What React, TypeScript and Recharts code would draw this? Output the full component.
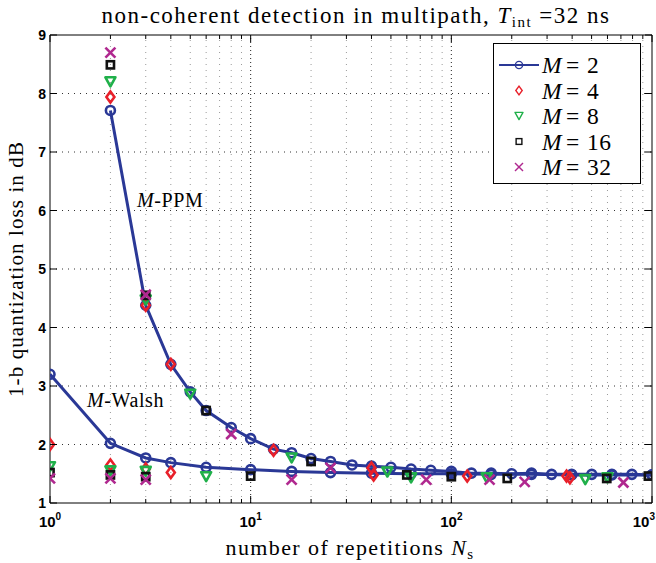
import React from 'react';
import { ScatterChart, Scatter, XAxis, YAxis, ReferenceLine, Legend } from 'recharts';

const W = 656;
const H = 563;

// tick values
const xMajorTicks = [1, 10, 100, 1000];
const xMinorTicks = [2, 3, 4, 5, 6, 7, 8, 9, 20, 30, 40, 50, 60, 70, 80, 90, 200, 300, 400, 500, 600, 700, 800, 900];
const yTicks = [1, 2, 3, 4, 5, 6, 7, 8, 9];
const yGridValues = [2, 3, 4, 5, 6, 7, 8];

// M = 2, M-PPM curve
const m2PpmN = [2, 3, 4, 5, 6, 8, 10, 13, 16, 20, 25, 32, 40, 50, 63, 79, 100, 126, 158, 200, 251, 316, 398, 501, 631, 794, 1000];
const m2PpmV = [7.71, 4.38, 3.37, 2.9, 2.58, 2.29, 2.1, 1.92, 1.86, 1.76, 1.71, 1.65, 1.63, 1.61, 1.58, 1.56, 1.54, 1.51, 1.51, 1.5, 1.51, 1.49, 1.49, 1.49, 1.49, 1.49, 1.48];
// M = 2, M-Walsh curve
const m2WalshN = [1, 2, 3, 4, 6, 10, 16, 25, 40, 63, 100, 158, 251, 398, 631, 1000];
const m2WalshV = [3.2, 2.02, 1.77, 1.69, 1.61, 1.57, 1.54, 1.52, 1.51, 1.5, 1.5, 1.49, 1.49, 1.48, 1.48, 1.48];
// M = 4
const m4N = [1, 2, 2, 3, 3, 4, 4, 13, 40, 41, 120, 375, 390];
const m4V = [2.0, 7.94, 1.65, 4.38, 1.58, 3.37, 1.52, 1.9, 1.6, 1.48, 1.46, 1.46, 1.43];
// M = 8
const m8N = [1, 2, 2, 3, 3, 5, 6, 16, 48, 63, 150, 465, 600];
const m8V = [1.62, 8.2, 1.55, 4.47, 1.54, 2.86, 1.45, 1.77, 1.53, 1.43, 1.43, 1.4, 1.43];
// M = 16
const m16N = [1, 2, 2, 3, 3, 6, 10, 20, 60, 100, 190, 595, 960];
const m16V = [1.52, 8.49, 1.48, 4.55, 1.45, 2.58, 1.46, 1.71, 1.48, 1.45, 1.42, 1.42, 1.46];
// M = 32
const m32N = [1, 2, 2, 3, 3, 8, 16, 25, 75, 155, 232, 720];
const m32V = [1.42, 8.7, 1.42, 4.56, 1.4, 2.18, 1.4, 1.6, 1.4, 1.4, 1.36, 1.35];

const legendNames = ['2', '4', '8', '16', '32'];

const zip = (n: number[], v: number[]) => n.map((x, i) => ({ n: x, v: v[i] }));

const BLUE = '#2a3896';
const RED = '#e8202a';
const GREEN = '#20b04a';
const BLACK = '#111111';
const MAGENTA = '#b0288f';

const SANS = '"Liberation Sans", Arial, sans-serif';
const SERIF = '"Liberation Serif", "Times New Roman", serif';

type MarkerKind = 'circle' | 'diamond' | 'triangle' | 'square' | 'x';

function Marker({ kind, cx, cy, color, s = 1, sw = 2.6 }: { kind: MarkerKind; cx: number; cy: number; color: string; s?: number; sw?: number }) {
  if (kind === 'circle') return <circle cx={cx} cy={cy} r={4.5 * s} fill="none" stroke={color} strokeWidth={sw} />;
  if (kind === 'diamond') {
    const w = 4 * s, h = 5.5 * s;
    return <polygon points={`${cx},${cy - h} ${cx + w},${cy} ${cx},${cy + h} ${cx - w},${cy}`} fill="none" stroke={color} strokeWidth={sw} />;
  }
  if (kind === 'triangle') {
    const w = 5 * s, h = 4.5 * s;
    return <polygon points={`${cx - w},${cy - h} ${cx + w},${cy - h} ${cx},${cy + h}`} fill="none" stroke={color} strokeWidth={sw} strokeLinejoin="round" />;
  }
  if (kind === 'square') {
    const a = 3.6 * s;
    return <rect x={cx - a} y={cy - a} width={2 * a} height={2 * a} fill="none" stroke={color} strokeWidth={sw} />;
  }
  const a = 5 * s;
  return (
    <g stroke={color} strokeWidth={sw}>
      <line x1={cx - a} y1={cy - a} x2={cx + a} y2={cy + a} />
      <line x1={cx - a} y1={cy + a} x2={cx + a} y2={cy - a} />
    </g>
  );
}

const shapeOf = (kind: MarkerKind, color: string) => (p: any) =>
  p.cx == null || p.cy == null ? <g /> : <Marker kind={kind} cx={p.cx} cy={p.cy} color={color} />;

const series: { name: string; kind: MarkerKind; color: string }[] = [
  { name: legendNames[0], kind: 'circle', color: BLUE },
  { name: legendNames[1], kind: 'diamond', color: RED },
  { name: legendNames[2], kind: 'triangle', color: GREEN },
  { name: legendNames[3], kind: 'square', color: BLACK },
  { name: legendNames[4], kind: 'x', color: MAGENTA },
];

const isMajor = (v: number) => xMajorTicks.includes(v);

const BottomTick = (p: any) => {
  const { x, y, payload } = p;
  const v = payload.value;
  const major = isMajor(v);
  const last = v === xMajorTicks[xMajorTicks.length - 1];
  return (
    <g>
      <line x1={x} x2={x} y1={y} y2={y - (major ? 7 : 4)} stroke="#000" strokeWidth={1} />
      {major && (
        <text x={last ? W - 1 : x} y={y + 24} textAnchor={last ? 'end' : 'middle'} fontFamily={SANS} fontWeight="bold" fontSize={15} fill="#000">
          10<tspan dy={-7} fontSize={10}>{Math.round(Math.log10(v))}</tspan>
        </text>
      )}
    </g>
  );
};

const TopTick = (p: any) => {
  const { x, y, payload } = p;
  const major = isMajor(payload.value);
  return <line x1={x} x2={x} y1={y} y2={y + (major ? 7 : 4)} stroke="#000" strokeWidth={1} />;
};

const LeftTick = (p: any) => {
  const { x, y, payload } = p;
  return (
    <g>
      <line x1={x} x2={x + 7} y1={y} y2={y} stroke="#000" strokeWidth={1} />
      <text x={x - 4} y={y + 5} textAnchor="end" fontFamily={SANS} fontWeight="bold" fontSize={14} fill="#000">
        {payload.value}
      </text>
    </g>
  );
};

const RightTick = (p: any) => {
  const { x, y } = p;
  return <line x1={x - 7} x2={x} y1={y} y2={y} stroke="#000" strokeWidth={1} />;
};

const LegendBox = () => (
  <div style={{ width: 148, height: 141, border: '1.3px solid #000', background: '#fff', boxSizing: 'border-box' }}>
    <svg width={146} height={139}>
      {series.map((s, i) => {
        const cy = 21 + i * 25.5;
        return (
          <g key={s.name}>
            {i === 0 && <line x1={5} x2={45} y1={cy} y2={cy} stroke={BLUE} strokeWidth={1.8} />}
            <Marker kind={s.kind} cx={25} cy={cy} color={s.color} s={0.8} sw={1.4} />
            <text y={cy + 8} fontFamily={SERIF} fontSize={23.5} fill="#000">
              <tspan x={48} fontStyle="italic">M</tspan>
              <tspan x={72}>=</tspan>
              <tspan x={93} letterSpacing={0.5}>{s.name}</tspan>
            </text>
          </g>
        );
      })}
    </svg>
  </div>
);

export default function App() {
  const allTicks = [...xMajorTicks, ...xMinorTicks].sort((a, b) => a - b);
  return (
    <div style={{ position: 'absolute', left: 0, top: 0, width: W, height: H, background: '#fff' }}>
      <ScatterChart width={W} height={H} margin={{ top: 30, right: 0, bottom: 0, left: 0 }}>
        <XAxis xAxisId="b" type="number" dataKey="n" scale="log" domain={[1, 1000]} ticks={allTicks} interval={0}
          allowDataOverflow orientation="bottom" height={60} tickSize={0} tickMargin={0} tickLine={false}
          tick={(p: any) => <BottomTick {...p} />} axisLine={{ stroke: '#000', strokeWidth: 1 }} />
        <XAxis xAxisId="t" type="number" dataKey="n" scale="log" domain={[1, 1000]} ticks={allTicks} interval={0}
          allowDataOverflow orientation="top" height={5} tickSize={0} tickMargin={0} tickLine={false}
          tick={(p: any) => <TopTick {...p} />} axisLine={{ stroke: '#000', strokeWidth: 1 }} />
        <YAxis yAxisId="l" type="number" dataKey="v" domain={[1, 9]} ticks={yTicks} interval={0} allowDataOverflow
          orientation="left" width={50} tickSize={0} tickMargin={0} tickLine={false}
          tick={(p: any) => <LeftTick {...p} />} axisLine={{ stroke: '#000', strokeWidth: 1 }} />
        <YAxis yAxisId="r" type="number" dataKey="v" domain={[1, 9]} ticks={yTicks} interval={0} allowDataOverflow
          orientation="right" width={4} tickSize={0} tickMargin={0} tickLine={false}
          tick={(p: any) => <RightTick {...p} />} axisLine={{ stroke: '#000', strokeWidth: 1 }} />

        {xMinorTicks.map((v) => (
          <ReferenceLine key={'mx' + v} xAxisId="b" yAxisId="l" x={v} stroke="#9a9a9a" strokeDasharray="1 5" />
        ))}
        {[10, 100].map((v) => (
          <ReferenceLine key={'Mx' + v} xAxisId="b" yAxisId="l" x={v} stroke="#222" strokeDasharray="1 3" />
        ))}
        {yGridValues.map((v) => (
          <ReferenceLine key={'gy' + v} xAxisId="b" yAxisId="l" y={v} stroke="#333" strokeDasharray="1 5" />
        ))}

        <Scatter xAxisId="b" yAxisId="l" name="M = 2" data={zip(m2WalshN, m2WalshV)} dataKey="v" isAnimationActive={false}
          line={{ stroke: BLUE, strokeWidth: 3 }} lineJointType="linear" shape={shapeOf('circle', BLUE)} legendType="none" />
        <Scatter xAxisId="b" yAxisId="l" name="M = 2" data={zip(m2PpmN, m2PpmV)} dataKey="v" isAnimationActive={false}
          line={{ stroke: BLUE, strokeWidth: 3 }} lineJointType="linear" shape={shapeOf('circle', BLUE)} />
        <Scatter xAxisId="b" yAxisId="l" name="M = 4" data={zip(m4N, m4V)} dataKey="v" isAnimationActive={false} shape={shapeOf('diamond', RED)} />
        <Scatter xAxisId="b" yAxisId="l" name="M = 8" data={zip(m8N, m8V)} dataKey="v" isAnimationActive={false} shape={shapeOf('triangle', GREEN)} />
        <Scatter xAxisId="b" yAxisId="l" name="M = 16" data={zip(m16N, m16V)} dataKey="v" isAnimationActive={false} shape={shapeOf('square', BLACK)} />
        <Scatter xAxisId="b" yAxisId="l" name="M = 32" data={zip(m32N, m32V)} dataKey="v" isAnimationActive={false} shape={shapeOf('x', MAGENTA)} />

        <Legend layout="vertical" align="center" verticalAlign="middle" content={() => <LegendBox />}
          wrapperStyle={{ position: 'absolute', left: 493, top: 43, width: 148, height: 141 }} />
      </ScatterChart>

      <svg width={W} height={H} style={{ position: 'absolute', left: 0, top: 0, pointerEvents: 'none' }}>
        <text x={356} y={23} textAnchor="middle" fontFamily={SERIF} fontSize={23} letterSpacing={1.5} fill="#000">
          non-coherent detection in multipath, <tspan fontStyle="italic">T</tspan><tspan fontSize={15} dy={4}>int</tspan><tspan dy={-4}> =32 ns</tspan>
        </text>
        <text x={350} y={555} textAnchor="middle" fontFamily={SERIF} fontSize={22} letterSpacing={1.4} fill="#000">
          number of repetitions <tspan fontStyle="italic">N</tspan><tspan fontSize={15} dy={4}>s</tspan>
        </text>
        <text x={23} y={269} textAnchor="middle" fontFamily={SERIF} fontSize={21} letterSpacing={1.1} fill="#000" transform="rotate(-90 23 269)">
          1-b quantization loss in dB
        </text>
        <text x={137} y={207} fontFamily={SERIF} fontSize={20} letterSpacing={0.6} fill="#000">
          <tspan fontStyle="italic">M</tspan>-PPM
        </text>
        <text x={87} y={407} fontFamily={SERIF} fontSize={20} letterSpacing={0.6} fill="#000">
          <tspan fontStyle="italic">M</tspan>-Walsh
        </text>
      </svg>
    </div>
  );
}
